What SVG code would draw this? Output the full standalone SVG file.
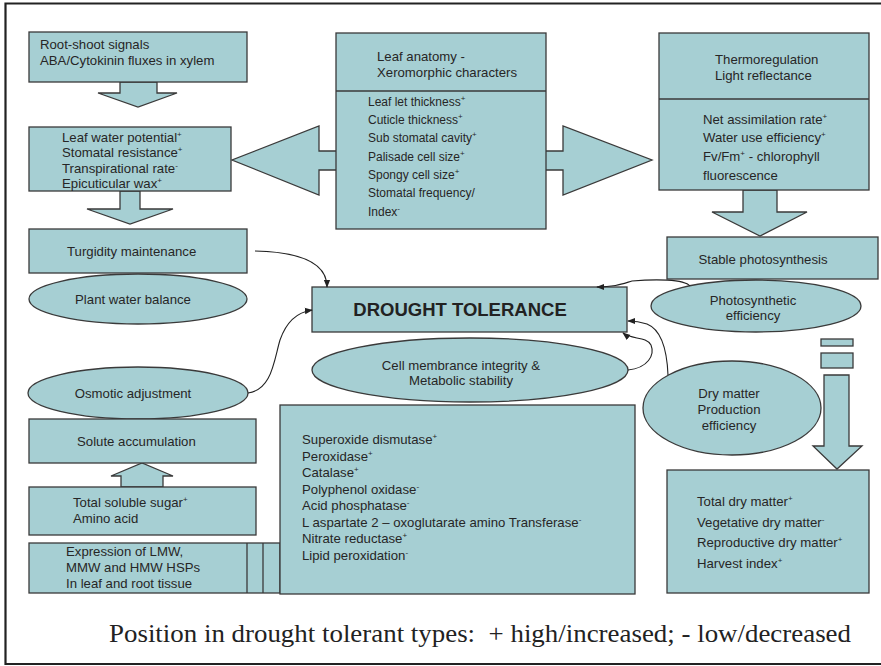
<svg xmlns="http://www.w3.org/2000/svg" width="881" height="666" viewBox="0 0 881 666">
<style>
.box{fill:#a6cfd3;stroke:#3a3a3a;stroke-width:1.3}
.t{font-family:"Liberation Sans",Arial,sans-serif;font-size:13.2px;fill:#262626}
.s{font-size:12px}
.sup{font-size:8px}
.conn{fill:none;stroke:#222;stroke-width:1.1}
.frame{fill:none;stroke:#222;stroke-width:2.2}
</style>
<defs>
<marker id="ah" viewBox="0 0 10 10" refX="9" refY="5" markerWidth="8" markerHeight="8" markerUnits="userSpaceOnUse" orient="auto"><path d="M0,1 L10,5 L0,9 z" fill="#222"/></marker>
</defs>
<rect width="881" height="666" fill="#fff"/>
<path class="frame" d="M881,3.5 H5.5 V664 H881"/>

<g id="arrows">
<polygon class="box" points="120,82 157,82 157,93 177,93 138,107 98,93 120,93"/>
<polygon class="box" points="120,191 140,191 140,209 173,209 130,224 87,209 120,209"/>
<polygon class="box" points="337,151 319,151 319,126 232,160 319,195 319,170 337,170"/>
<polygon class="box" points="545,151 563,151 563,126 652,160 563,195 563,170 545,170"/>
<polygon class="box" points="743,190 777,190 777,212 807,212 760,236 712,212 743,212"/>
<polygon class="box" points="121,487 121,476 111,476 142,463 173,476 163,476 163,487"/>
<rect class="box" x="821" y="339" width="32" height="7"/>
<rect class="box" x="821" y="353" width="32" height="15"/>
<polygon class="box" points="824,375 849,375 849,446 862,446 837,469 813,446 824,446"/>
</g>

<g id="root-shoot">
<rect class="box" x="29" y="32" width="218" height="50"/>
<text class="t" x="40" y="49">Root-shoot signals</text>
<text class="t" x="40" y="65">ABA/Cytokinin fluxes in xylem</text>
</g>

<g id="leaf-water">
<rect class="box" x="29" y="127" width="202" height="64"/>
<text class="t" x="62" y="142">Leaf water potential<tspan class="sup" dy="-5">+</tspan></text>
<text class="t" x="62" y="157">Stomatal resistance<tspan class="sup" dy="-5">+</tspan></text>
<text class="t" x="62" y="173">Transpirational rate<tspan class="sup" dy="-5">-</tspan></text>
<text class="t" x="62" y="188">Epicuticular wax<tspan class="sup" dy="-5">+</tspan></text>
</g>

<g id="turgidity">
<rect class="box" x="29" y="229" width="218" height="44"/>
<text class="t" x="67" y="256">Turgidity maintenance</text>
</g>

<g id="plant-water">
<ellipse class="box" cx="138" cy="299" rx="109" ry="25"/>
<text class="t" x="133" y="304" text-anchor="middle">Plant water balance</text>
</g>

<g id="osmotic">
<ellipse class="box" cx="138" cy="393" rx="110" ry="26"/>
<text class="t" x="133" y="398" text-anchor="middle">Osmotic adjustment</text>
</g>

<g id="solute">
<rect class="box" x="29" y="419" width="227" height="44"/>
<text class="t" x="77" y="446">Solute accumulation</text>
</g>

<g id="sugar">
<rect class="box" x="29" y="487" width="227" height="48"/>
<text class="t" x="73" y="507">Total soluble sugar<tspan class="sup" dy="-5">+</tspan></text>
<text class="t" x="73" y="523">Amino acid</text>
</g>

<g id="expression">
<rect class="box" x="29" y="543" width="251" height="50"/>
<line x1="247" y1="543" x2="247" y2="593" stroke="#3a3a3a" stroke-width="1.3"/>
<line x1="263" y1="543" x2="263" y2="593" stroke="#3a3a3a" stroke-width="1.3"/>
<text class="t" x="66" y="556">Expression of LMW,</text>
<text class="t" x="66" y="572">MMW and HMW HSPs</text>
<text class="t" x="66" y="588">In leaf and root tissue</text>
</g>

<g id="leaf-anatomy">
<rect class="box" x="336" y="33" width="210" height="196"/>
<line x1="336" y1="91" x2="546" y2="91" stroke="#3a3a3a" stroke-width="1.3"/>
<text class="t" x="377" y="61">Leaf anatomy -</text>
<text class="t" x="377" y="77">Xeromorphic characters</text>
<text class="t s" x="368" y="106">Leaf let thickness<tspan class="sup" dy="-5">+</tspan></text>
<text class="t s" x="368" y="124">Cuticle thickness<tspan class="sup" dy="-5">+</tspan></text>
<text class="t s" x="368" y="142">Sub stomatal cavity<tspan class="sup" dy="-5">+</tspan></text>
<text class="t s" x="368" y="161">Palisade cell size<tspan class="sup" dy="-5">+</tspan></text>
<text class="t s" x="368" y="179">Spongy cell size<tspan class="sup" dy="-5">+</tspan></text>
<text class="t s" x="368" y="197">Stomatal frequency/</text>
<text class="t s" x="368" y="216">Index<tspan class="sup" dy="-5">-</tspan></text>
</g>

<g id="thermo">
<rect class="box" x="659" y="33" width="210" height="157"/>
<line x1="659" y1="99" x2="869" y2="99" stroke="#3a3a3a" stroke-width="1.3"/>
<text class="t" x="715" y="64">Thermoregulation</text>
<text class="t" x="715" y="80">Light reflectance</text>
<text class="t" x="703" y="124">Net assimilation rate<tspan class="sup" dy="-5">+</tspan></text>
<text class="t" x="703" y="142">Water use efficiency<tspan class="sup" dy="-5">+</tspan></text>
<text class="t" x="703" y="161">Fv/Fm<tspan class="sup" dy="-5">+</tspan><tspan dy="5"> - chlorophyll</tspan></text>
<text class="t" x="703" y="180">fluorescence</text>
</g>

<g id="stable">
<rect class="box" x="667" y="237" width="211" height="42"/>
<text class="t" x="763" y="264" text-anchor="middle">Stable photosynthesis</text>
</g>

<g id="photo-eff">
<ellipse class="box" cx="756" cy="306" rx="105" ry="26"/>
<text class="t" x="753" y="305" text-anchor="middle">Photosynthetic</text>
<text class="t" x="753" y="320" text-anchor="middle">efficiency</text>
</g>

<g id="drought">
<rect class="box" x="312" y="287" width="315" height="45"/>
<text x="460" y="316" text-anchor="middle" font-family="'Liberation Sans',Arial,sans-serif" font-weight="bold" font-size="18.5" fill="#222">DROUGHT TOLERANCE</text>
</g>

<g id="cell-membrane">
<ellipse class="box" cx="470" cy="370" rx="158" ry="32"/>
<text class="t" x="461" y="370" text-anchor="middle">Cell membrance integrity &amp;</text>
<text class="t" x="461" y="385" text-anchor="middle">Metabolic stability</text>
</g>

<g id="enzymes">
<rect class="box" x="280" y="405" width="355" height="189"/>
<text class="t" x="302" y="444">Superoxide dismutase<tspan class="sup" dy="-5">+</tspan></text>
<text class="t" x="302" y="460.5">Peroxidase<tspan class="sup" dy="-5">+</tspan></text>
<text class="t" x="302" y="477">Catalase<tspan class="sup" dy="-5">+</tspan></text>
<text class="t" x="302" y="493.5">Polyphenol oxidase<tspan class="sup" dy="-5">-</tspan></text>
<text class="t" x="302" y="510">Acid phosphatase<tspan class="sup" dy="-5">-</tspan></text>
<text class="t" x="302" y="526.5">L aspartate 2 – oxoglutarate amino Transferase<tspan class="sup" dy="-5">-</tspan></text>
<text class="t" x="302" y="543">Nitrate reductase<tspan class="sup" dy="-5">+</tspan></text>
<text class="t" x="302" y="559.5">Lipid peroxidation<tspan class="sup" dy="-5">-</tspan></text>
</g>

<g id="dry-matter">
<ellipse class="box" cx="732" cy="408" rx="89" ry="47"/>
<text class="t" x="729" y="398" text-anchor="middle">Dry matter</text>
<text class="t" x="729" y="414" text-anchor="middle">Production</text>
<text class="t" x="729" y="430" text-anchor="middle">efficiency</text>
</g>

<g id="total-dry">
<rect class="box" x="667" y="470" width="202" height="123"/>
<text class="t" x="697" y="506">Total dry matter<tspan class="sup" dy="-5">+</tspan></text>
<text class="t" x="697" y="527">Vegetative dry matter<tspan class="sup" dy="-5">-</tspan></text>
<text class="t" x="697" y="547">Reproductive dry matter<tspan class="sup" dy="-5">+</tspan></text>
<text class="t" x="697" y="568">Harvest index<tspan class="sup" dy="-5">+</tspan></text>
</g>

<g id="connectors">
<path class="conn" marker-end="url(#ah)" d="M255,251 C300,252 327,262 327,287"/>
<path class="conn" marker-end="url(#ah)" d="M248,393 C272,390 274,360 280,340 C287,320 298,312 312,310"/>
<path class="conn" marker-end="url(#ah)" d="M690,286 C684,279 655,279 632,281 C622,284 615,287 597,287"/>
<path class="conn" marker-end="url(#ah)" d="M628,370 C648,368 655,355 651,345 C646,336 632,340 623,333"/>
<path class="conn" marker-end="url(#ah)" d="M668,375 C667,350 662,330 647,324 C641,322 636,321 628,321"/>
</g>

<text x="109" y="642" xml:space="preserve" font-family="'Liberation Serif','Times New Roman',serif" font-size="26" textLength="742" lengthAdjust="spacingAndGlyphs" fill="#222">Position in drought tolerant types:  + high/increased; - low/decreased</text>
</svg>
